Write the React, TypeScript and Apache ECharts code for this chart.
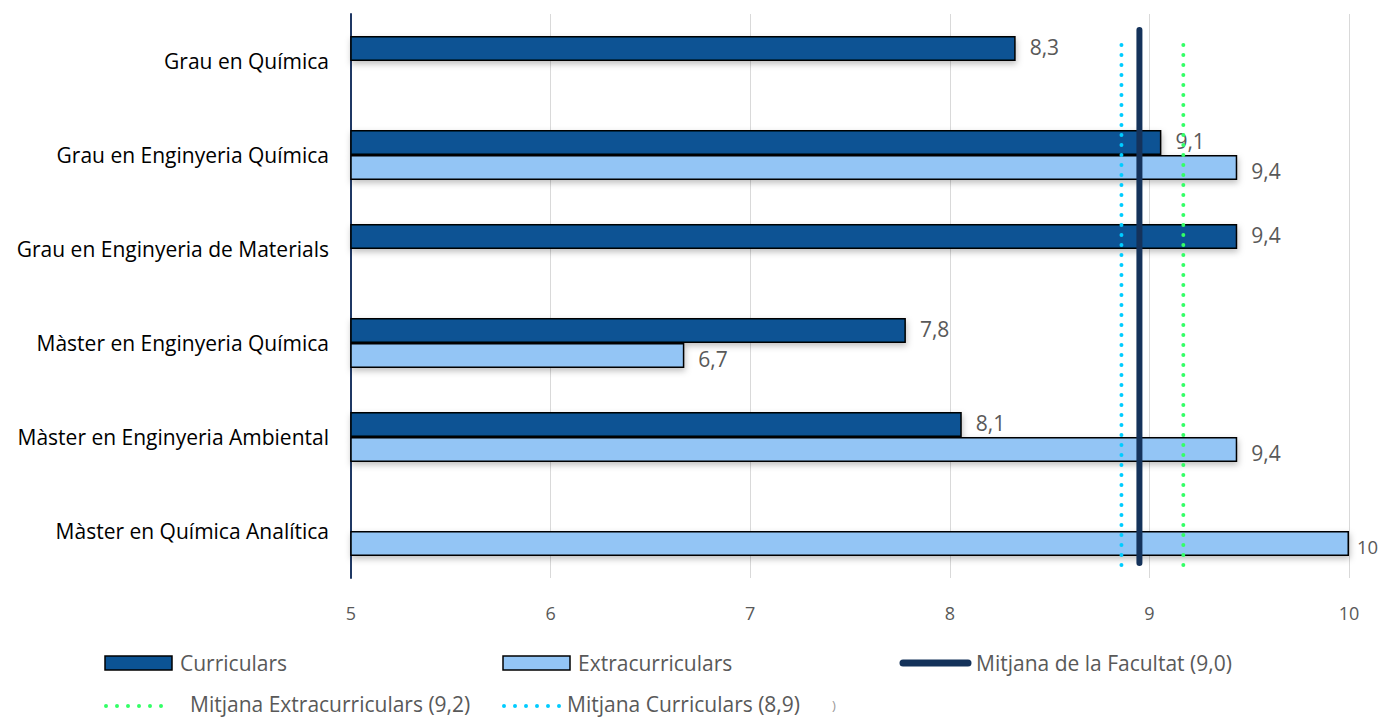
import React, { useEffect, useRef } from "react";
import * as echarts from "echarts";

const categories = [
  "Grau en Química",
  "Grau en Enginyeria Química",
  "Grau en Enginyeria de Materials",
  "Màster en Enginyeria Química",
  "Màster en Enginyeria Ambiental",
  "Màster en Química Analítica",
];
const curriculars: (number | null)[] = [8.33, 9.06, 9.44, 7.78, 8.06, null];
const extracurriculars: (number | null)[] = [null, 9.44, null, 6.67, 9.44, 10];
const mitjanaFacultat = 8.95;
const mitjanaExtra = 9.17;
const mitjanaCurr = 8.86;
const xTicks = [5, 6, 7, 8, 9, 10];

const FONT = "Open Sans";
const C_CURR = "#0b5394";
const C_EXTRA = "#93c5f5";
const C_FAC = "#14325a";
const C_GREEN = "#33ff66";
const C_CYAN = "#00ccff";

function fmt(v: number) {
  return String(Number(v.toFixed(1))).replace(".", ",");
}

export default function App() {
  const ref = useRef<HTMLDivElement>(null);
  useEffect(() => {
    const chart = echarts.init(ref.current!, undefined, { renderer: "svg" });
    const barLabel = {
      show: true,
      position: "right" as const,
      distance: 14,
      color: "#595959",
      fontSize: 21,
      fontFamily: FONT,
      formatter: (p: any) => fmt(p.value),
    };
    const barShadow = {
      shadowColor: "rgba(0,0,0,0.25)",
      shadowBlur: 6,
      shadowOffsetY: 3,
      shadowOffsetX: 1,
    };
    // integer labels at the axis end are drawn smaller, as in the reference
    const withLabelSize = (arr: (number | null)[]) =>
      arr.map((v) =>
        v !== null && v >= 10 ? { value: v, label: { fontSize: 18.5, distance: 8 } } : v
      );
    const legendText = (x: number, y: number, text: string) => ({
      type: "text",
      x,
      y,
      style: {
        text,
        fill: "#595959",
        fontSize: 21,
        fontFamily: FONT,
        verticalAlign: "middle",
        align: "left",
      },
    });
    chart.setOption({
      animation: false,
      grid: { left: 351, right: 34, top: 14, bottom: 140, containLabel: false },
      xAxis: {
        type: "value",
        min: xTicks[0],
        max: xTicks[xTicks.length - 1],
        interval: 1,
        axisLine: { show: false },
        axisTick: { show: false },
        splitLine: { show: true, lineStyle: { color: "#d9d9d9", width: 1 } },
        axisLabel: { color: "#595959", fontSize: 18, fontFamily: FONT, margin: 26 },
      },
      yAxis: [
        {
          type: "category",
          data: categories,
          inverse: true,
          axisLine: { show: true, lineStyle: { color: "#1f3864", width: 2 } },
          axisTick: { show: false },
          axisLabel: { color: "#000", fontSize: 21, fontFamily: FONT, margin: 22 },
        },
        {
          type: "value",
          min: 0,
          max: 564,
          show: false,
        },
      ],
      graphic: [
        {
          type: "rect",
          shape: { x: 105, y: 656, width: 67, height: 14 },
          style: { fill: C_CURR, stroke: "#000", lineWidth: 1.5 },
        },
        legendText(180, 663, "Curriculars"),
        {
          type: "rect",
          shape: { x: 503, y: 656, width: 67, height: 14 },
          style: { fill: C_EXTRA, stroke: "#000", lineWidth: 1.5 },
        },
        legendText(578, 663, "Extracurriculars"),
        {
          type: "line",
          shape: { x1: 903, y1: 663, x2: 968, y2: 663 },
          style: { stroke: C_FAC, lineWidth: 7, lineCap: "round" },
        },
        legendText(976, 663, "Mitjana de la Facultat (9,0)"),
        {
          type: "line",
          shape: { x1: 106, y1: 706, x2: 172, y2: 706 },
          style: { stroke: C_GREEN, lineWidth: 4, lineCap: "round", lineDash: [0, 11] },
        },
        legendText(190, 704, "Mitjana Extracurriculars (9,2)"),
        {
          type: "line",
          shape: { x1: 504, y1: 706, x2: 560, y2: 706 },
          style: { stroke: C_CYAN, lineWidth: 4, lineCap: "round", lineDash: [0, 11] },
        },
        legendText(567, 704, "Mitjana Curriculars (8,9)"),
        {
          type: "text",
          x: 832,
          y: 705,
          style: { text: ")", fill: "#999", fontSize: 13, fontFamily: FONT, verticalAlign: "middle" },
        },
      ],
      series: [
        {
          name: "Curriculars",
          type: "bar",
          data: withLabelSize(curriculars),
          barWidth: 25,
          barGap: "0%",
          itemStyle: { color: C_CURR, borderColor: "#000", borderWidth: 1.5, ...barShadow },
          label: { ...barLabel, offset: [0, -2] },
        },
        {
          name: "Extracurriculars",
          type: "bar",
          data: withLabelSize(extracurriculars),
          barWidth: 25,
          barGap: "0%",
          itemStyle: { color: C_EXTRA, borderColor: "#000", borderWidth: 1.5, ...barShadow },
          label: { ...barLabel, offset: [0, 3] },
        },
        {
          name: "Mitjana de la Facultat (9,0)",
          type: "line",
          xAxisIndex: 0,
          yAxisIndex: 1,
          data: [
            [mitjanaFacultat, 15],
            [mitjanaFacultat, 548],
          ],
          symbol: "none",
          itemStyle: { color: C_FAC },
          lineStyle: { color: C_FAC, width: 6, cap: "round" },
          z: 5,
        },
        {
          name: "Mitjana Extracurriculars (9,2)",
          type: "line",
          xAxisIndex: 0,
          yAxisIndex: 1,
          data: [
            [mitjanaExtra, 13],
            [mitjanaExtra, 542],
          ],
          symbol: "none",
          itemStyle: { color: C_GREEN },
          lineStyle: { color: C_GREEN, width: 4, type: [0, 10], cap: "round" },
          z: 4,
        },
        {
          name: "Mitjana Curriculars (8,9)",
          type: "line",
          xAxisIndex: 0,
          yAxisIndex: 1,
          data: [
            [mitjanaCurr, 13],
            [mitjanaCurr, 542],
          ],
          symbol: "none",
          itemStyle: { color: C_CYAN },
          lineStyle: { color: C_CYAN, width: 4, type: [0, 10], cap: "round" },
          z: 4,
        },
      ],
    });
    return () => chart.dispose();
  }, []);
  return <div ref={ref} style={{ width: 1383, height: 718, position: "absolute", left: 0, top: 0 }} />;
}
